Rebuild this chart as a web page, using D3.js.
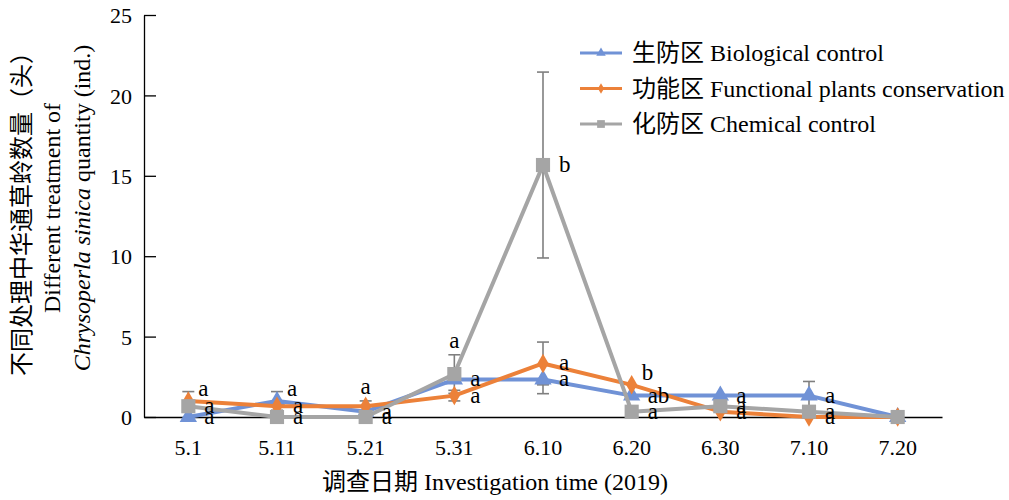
<!DOCTYPE html>
<html>
<head>
<meta charset="utf-8">
<script src="https://cdn.jsdelivr.net/npm/d3@7"></script>
<style>
body { margin: 0; background: #fff; }
text { font-family: "Liberation Serif", "Noto Sans CJK SC", serif; fill: #000; }
</style>
</head>
<body>
<div id="the_chart"></div>
<script>
var dates = ["5.1", "5.11", "5.21", "5.31", "6.10", "6.20", "6.30", "7.10", "7.20"];
var yTicks = [0, 5, 10, 15, 20, 25];

var bioValues = [0, 1.0, 0.33, 2.33, 2.33, 1.33, 1.33, 1.33, 0];
var bioErrors = [0, 0.58, 0, 0, 0.88, 0, 0, 0.88, 0];
var bioLetters = ["a", "a", "a", "a", "a", "ab", "a", "a", ""];
var bioLabelPos = ["r", "tr", "r", "r", "r", "r", "r", "r", "r"];

var funValues = [1.0, 0.67, 0.67, 1.33, 3.33, 2.0, 0.33, 0, 0];
var funErrors = [0.58, 0, 0.33, 0.33, 1.33, 0, 0, 0, 0];
var funLetters = ["a", "a", "a", "a", "a", "b", "a", "a", ""];
var funLabelPos = ["tr", "r", "t", "r", "r", "tr", "r", "r", "r"];

var chemValues = [0.67, 0, 0, 2.67, 15.67, 0.33, 0.67, 0.33, 0];
var chemErrors = [0, 0, 0, 1.2, 5.78, 0, 0, 0, 0];
var chemLetters = ["a", "a", "a", "a", "b", "a", "a", "a", ""];
var chemLabelPos = ["r", "r", "r", "t", "r", "r", "r", "r", "r"];

var seriesNames = ["生防区 Biological control", "功能区 Functional plants conservation", "化防区 Chemical control"];
var seriesColors = ["#7092d6", "#ec8139", "#a5a5a5"];

var series = [
    {name: seriesNames[0], color: seriesColors[0], values: bioValues, errors: bioErrors, letters: bioLetters, pos: bioLabelPos, marker: d3.symbolTriangle, size: 130},
    {name: seriesNames[1], color: seriesColors[1], values: funValues, errors: funErrors, letters: funLetters, pos: funLabelPos, marker: d3.symbolDiamond, size: 110},
    {name: seriesNames[2], color: seriesColors[2], values: chemValues, errors: chemErrors, letters: chemLetters, pos: chemLabelPos, marker: d3.symbolSquare, size: 200}
];

var w = 1009, h = 500;
var plotLeft = 144, plotRight = 942, plotTop = 15, plotBottom = 417;

var svg = d3.select("#the_chart").append("svg")
    .attr("width", w)
    .attr("height", h);

var xscale = d3.scaleBand()
    .domain(dates)
    .range([plotLeft, plotRight]);
var yscale = d3.scaleLinear()
    .domain([0, 25])
    .range([plotBottom, plotTop]);

function cx(i) { return xscale(dates[i]) + xscale.bandwidth() / 2; }

// axes
var yaxis = d3.axisLeft(yscale)
    .tickValues(yTicks)
    .tickSizeInner(-12)
    .tickSizeOuter(0)
    .tickPadding(12);
var gy = svg.append("g")
    .attr("transform", "translate(" + plotLeft + ",0)")
    .call(yaxis);
gy.selectAll("text").style("font-size", "22px").attr("dy", "0.35em");

var xaxis = d3.axisBottom(xscale)
    .tickSize(0)
    .tickPadding(22);
var gx = svg.append("g")
    .attr("transform", "translate(0," + plotBottom + ")")
    .call(xaxis);
gx.selectAll("text").style("font-size", "22px");

svg.selectAll(".domain").attr("stroke", "#000").attr("stroke-width", 1.3);
svg.selectAll(".tick line").attr("stroke", "#000").attr("stroke-width", 1.3);

// error bars
series.forEach(function (s) {
    var eg = svg.append("g");
    s.values.forEach(function (v, i) {
        var e = s.errors[i];
        if (!e) return;
        var x = cx(i);
        eg.append("line")
            .attr("x1", x).attr("x2", x)
            .attr("y1", yscale(v - e)).attr("y2", yscale(v + e))
            .attr("stroke", "#7f7f7f").attr("stroke-width", 1.6);
        [v - e, v + e].forEach(function (yy) {
            eg.append("line")
                .attr("x1", x - 6).attr("x2", x + 6)
                .attr("y1", yscale(yy)).attr("y2", yscale(yy))
                .attr("stroke", "#7f7f7f").attr("stroke-width", 1.6);
        });
    });
});

// lines and markers
var line = d3.line()
    .x(function (d, i) { return cx(i); })
    .y(function (d) { return yscale(d); });

series.forEach(function (s) {
    svg.append("path")
        .datum(s.values)
        .attr("d", line)
        .attr("fill", "none")
        .attr("stroke", s.color)
        .attr("stroke-width", 4)
        .attr("stroke-linejoin", "round");
    svg.selectAll(null)
        .data(s.values)
        .enter().append("path")
        .attr("d", d3.symbol().type(s.marker).size(s.size))
        .attr("transform", function (d, i) { return "translate(" + cx(i) + "," + yscale(d) + ")"; })
        .attr("fill", s.color);
});

// significance letters
series.forEach(function (s) {
    svg.selectAll(null)
        .data(s.letters)
        .enter().append("text")
        .text(function (d) { return d; })
        .attr("x", function (d, i) {
            var p = s.pos[i];
            if (p === "t") return cx(i);
            if (p === "tr") return cx(i) + 10;
            return cx(i) + 16;
        })
        .attr("y", function (d, i) {
            var p = s.pos[i], y = yscale(s.values[i]);
            if (p === "t") return yscale(s.values[i] + s.errors[i]) - 14;
            if (p === "tr") return y - 12;
            return y;
        })
        .attr("text-anchor", function (d, i) { return s.pos[i] === "t" ? "middle" : "start"; })
        .attr("dy", "0.3em")
        .style("font-size", "23px");
});

// legend
var legend = svg.append("g").attr("transform", "translate(580,53)");
series.forEach(function (s, i) {
    var g = legend.append("g").attr("transform", "translate(0," + (i * 35.5) + ")");
    g.append("line")
        .attr("x1", 0).attr("x2", 42)
        .attr("stroke", s.color).attr("stroke-width", 3);
    g.append("path")
        .attr("d", d3.symbol().type(s.marker).size(s.size * 0.3))
        .attr("transform", "translate(21,0)")
        .attr("fill", s.color);
    g.append("text")
        .attr("x", 52).attr("dy", "0.35em")
        .text(s.name)
        .style("font-size", "24px");
});

// axis titles
svg.append("text")
    .attr("x", 495).attr("y", 482)
    .attr("dy", "0.35em")
    .attr("text-anchor", "middle")
    .style("font-size", "24px")
    .text("调查日期 Investigation time (2019)");

var ylab = svg.append("g").attr("transform", "translate(0,208) rotate(-90)")
    .attr("text-anchor", "middle")
    .style("font-size", "24px");
ylab.append("text").attr("y", 22).attr("dy", "0.35em")
    .text("不同处理中华通草蛉数量（头）");
ylab.append("text").attr("y", 52).attr("dy", "0.35em")
    .text("Different treatment of");
var t3 = ylab.append("text").attr("y", 82).attr("dy", "0.35em");
t3.append("tspan").style("font-style", "italic").text("Chrysoperla sinica");
t3.append("tspan").text(" quantity (ind.)");
</script>
</body>
</html>
